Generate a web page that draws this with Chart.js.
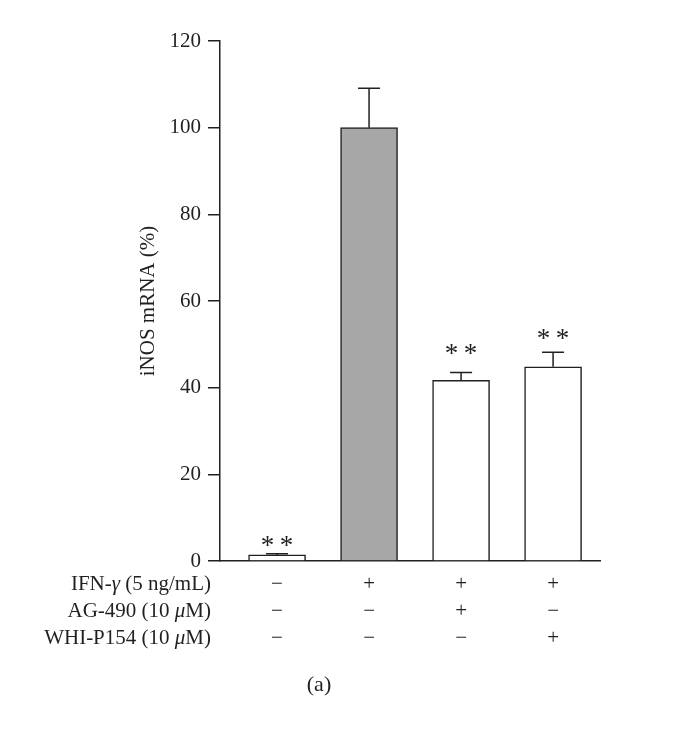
<!DOCTYPE html>
<html>
<head>
<meta charset="utf-8">
<script src="https://cdn.jsdelivr.net/npm/chart.js@4.4.1/dist/chart.umd.min.js"></script>
<style>
  html, body { margin: 0; padding: 0; background: #fff; }
</style>
</head>
<body>
<canvas id="chart" width="699" height="751"></canvas>
<script>
// data
const groups = ['control', 'IFN-γ', 'IFN-γ + AG-490', 'IFN-γ + WHI-P154'];
const mrna = [1.4, 100, 41.7, 44.8];
const sem = [0.3, 9.1, 1.8, 3.4];
const sigLevel = [4.5, null, 48.9, 52.2];
const sigText = ['*\u2009*', '', '*\u2009*', '*\u2009*'];
const yTicks = [0, 20, 40, 60, 80, 100, 120];
// treatment table: one column per group, rows IFN / AG-490 / WHI-P154
const treatment = [['−', '−', '−'], ['+', '−', '−'], ['+', '+', '−'], ['+', '−', '+']];
// row names, middle piece is italic
const rowNames = [['IFN-', 'γ', ' (5 ng/mL)'], ['AG-490 (10 ', 'μ', 'M)'], ['WHI-P154 (10 ', 'μ', 'M)']];

const ink = '#231f20';
const serif = '"Liberation Serif", "DejaVu Serif", serif';
const rowH = 27;
const tickPad = 10;

const extras = {
  id: 'extras',
  afterDatasetsDraw(chart) {
    const { ctx, chartArea, scales: { x, y } } = chart;
    ctx.save();
    ctx.strokeStyle = ink;
    ctx.fillStyle = ink;
    ctx.lineWidth = 1.5;

    // error bars (upper only)
    mrna.forEach((v, i) => {
      const px = x.getPixelForValue(i);
      const top = y.getPixelForValue(v);
      const end = y.getPixelForValue(v + sem[i]);
      ctx.beginPath();
      ctx.moveTo(px, top);
      ctx.lineTo(px, end);
      ctx.moveTo(px - 11, end);
      ctx.lineTo(px + 11, end);
      ctx.stroke();
    });

    // significance marks
    ctx.font = '27px ' + serif;
    ctx.textAlign = 'center';
    ctx.textBaseline = 'alphabetic';
    sigLevel.forEach((lv, i) => {
      if (lv == null) return;
      const m = ctx.measureText(sigText[i]);
      const cy = y.getPixelForValue(lv);
      ctx.fillText(sigText[i], x.getPixelForValue(i),
        cy + (m.actualBoundingBoxAscent - m.actualBoundingBoxDescent) / 2);
    });

    // row names of the treatment table
    ctx.textAlign = 'left';
    ctx.textBaseline = 'middle';
    const right = chartArea.left - 9;
    rowNames.forEach((parts, r) => {
      const fonts = parts.map((_, k) => (k === 1 ? 'italic ' : '') + '21px ' + serif);
      const widths = parts.map((p, k) => { ctx.font = fonts[k]; return ctx.measureText(p).width; });
      let px = right - widths.reduce((a, b) => a + b, 0);
      const py = chartArea.bottom + tickPad + rowH * (r + 0.5);
      parts.forEach((p, k) => {
        ctx.font = fonts[k];
        ctx.fillText(p, px, py);
        px += widths[k];
      });
    });

    // panel letter
    ctx.font = '22px ' + serif;
    ctx.textAlign = 'center';
    ctx.fillText('(a)', chartArea.left + 99, chartArea.bottom + 124);
    ctx.restore();
  }
};

new Chart(document.getElementById('chart'), {
  type: 'bar',
  data: {
    datasets: [{
      data: mrna.map((v, i) => ({ x: i, y: v })),
      backgroundColor: ['#ffffff', '#a7a7a7', '#ffffff', '#ffffff'],
      borderColor: ink,
      borderWidth: 1.5,
      barThickness: 57
    }]
  },
  options: {
    responsive: false,
    animation: false,
    layout: { padding: { left: 132, right: 99, top: 41, bottom: 0 } },
    plugins: { legend: { display: false }, tooltip: { enabled: false } },
    scales: {
      x: {
        type: 'linear',
        min: -0.62,
        max: 3.51,
        offset: false,
        grid: { display: false, drawTicks: false },
        border: { display: true, color: ink, width: 1.5 },
        afterBuildTicks: (s) => { s.ticks = groups.map((_, i) => ({ value: i })); },
        afterFit: (s) => { s.height = 190; },
        ticks: {
          padding: tickPad,
          autoSkip: false,
          maxRotation: 0,
          color: ink,
          font: { family: serif, size: 21, lineHeight: rowH + 'px' },
          callback: (v) => treatment[v]
        }
      },
      y: {
        min: 0,
        max: 120,
        afterFit: (s) => { s.width = 88; },
        afterBuildTicks: (s) => { s.ticks = yTicks.map((v) => ({ value: v })); },
        grid: { drawOnChartArea: false, tickLength: 12, color: ink, lineWidth: 1.5 },
        border: { display: true, color: ink, width: 1.5 },
        ticks: { padding: 7, color: ink, font: { family: serif, size: 21 } },
        title: {
          display: true,
          text: 'iNOS mRNA (%)',
          color: ink,
          font: { family: serif, size: 21 },
          padding: { top: 4, bottom: 4 }
        }
      }
    }
  },
  plugins: [extras]
});
</script>
</body>
</html>
